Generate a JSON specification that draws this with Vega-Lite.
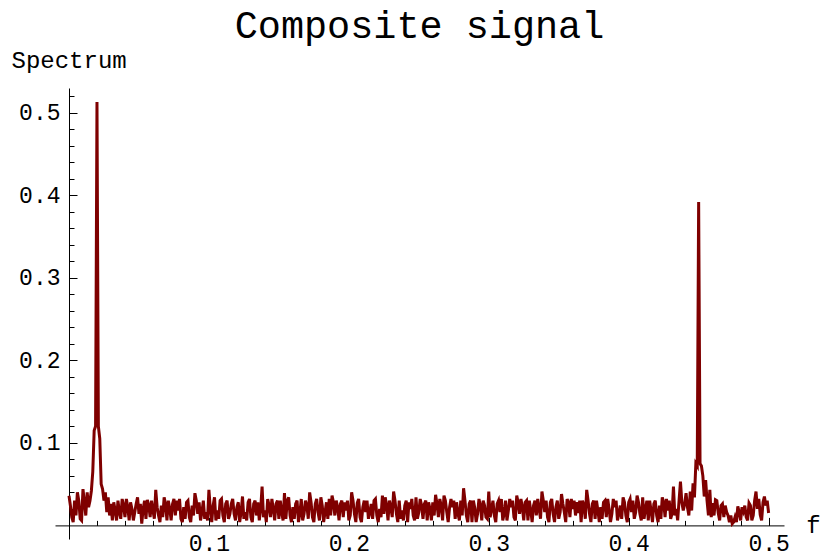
{
  "$schema": "https://vega.github.io/schema/vega-lite/v6.json",
  "autosize": {"type": "none"},
  "padding": {"left": 55, "top": 88, "right": 38, "bottom": 20},
  "width": 729,
  "height": 451,
  "background": "white",
  "config": {"view": {"stroke": null}},
  "title": {"text": "Composite signal", "font": "Liberation Mono", "fontSize": 38.5, "fontWeight": "normal", "color": "black", "anchor": "middle", "frame": "group", "baseline": "alphabetic", "offset": -28},
  "data": {"values": [
    {"f":0.000,"s":0.036},{"f":0.002,"s":0.010},{"f":0.004,"s":0.030},{"f":0.006,"s":0.040},{"f":0.008,"s":0.008},
    {"f":0.010,"s":0.044},{"f":0.012,"s":0.012},{"f":0.013,"s":0.040},{"f":0.014,"s":0.022},{"f":0.015,"s":0.030},
    {"f":0.016,"s":0.042},{"f":0.017,"s":0.065},{"f":0.018,"s":0.115},{"f":0.019,"s":0.120},{"f":0.020,"s":0.513},
    {"f":0.021,"s":0.120},{"f":0.022,"s":0.105},{"f":0.023,"s":0.050},{"f":0.024,"s":0.044},{"f":0.025,"s":0.030},
    {"f":0.026,"s":0.040},{"f":0.027,"s":0.016},{"f":0.028,"s":0.034},{"f":0.029,"s":0.012},{"f":0.030,"s":0.026},
    {"f":0.032,"s":0.028},{"f":0.034,"s":0.006},{"f":0.036,"s":0.016},{"f":0.038,"s":0.032},{"f":0.040,"s":0.010},
    {"f":0.042,"s":0.022},{"f":0.044,"s":0.028},{"f":0.046,"s":0.006},{"f":0.048,"s":0.026},{"f":0.050,"s":0.014},
    {"f":0.052,"s":0.002},{"f":0.054,"s":0.030},{"f":0.056,"s":0.031},{"f":0.058,"s":0.010},{"f":0.060,"s":0.018},
    {"f":0.062,"s":0.043},{"f":0.064,"s":0.012},{"f":0.066,"s":0.024},{"f":0.068,"s":0.034},{"f":0.070,"s":0.006},
    {"f":0.072,"s":0.020},{"f":0.074,"s":0.026},{"f":0.076,"s":0.012},{"f":0.078,"s":0.018},{"f":0.080,"s":0.008},
    {"f":0.082,"s":0.022},{"f":0.084,"s":0.028},{"f":0.086,"s":0.010},{"f":0.088,"s":0.024},{"f":0.090,"s":0.039},
    {"f":0.092,"s":0.014},{"f":0.094,"s":0.006},{"f":0.096,"s":0.030},{"f":0.098,"s":0.016},{"f":0.100,"s":0.043},
    {"f":0.102,"s":0.004},{"f":0.104,"s":0.034},{"f":0.106,"s":0.018},{"f":0.108,"s":0.030},{"f":0.110,"s":0.012},
    {"f":0.112,"s":0.026},{"f":0.114,"s":0.008},{"f":0.116,"s":0.026},{"f":0.118,"s":0.014},{"f":0.120,"s":0.022},
    {"f":0.122,"s":0.004},{"f":0.124,"s":0.035},{"f":0.126,"s":0.016},{"f":0.128,"s":0.028},{"f":0.130,"s":0.010},
    {"f":0.132,"s":0.026},{"f":0.134,"s":0.012},{"f":0.136,"s":0.006},{"f":0.138,"s":0.047},{"f":0.140,"s":0.018},
    {"f":0.142,"s":0.032},{"f":0.144,"s":0.010},{"f":0.146,"s":0.020},{"f":0.148,"s":0.026},{"f":0.150,"s":0.008},
    {"f":0.152,"s":0.016},{"f":0.154,"s":0.039},{"f":0.156,"s":0.030},{"f":0.158,"s":0.012},{"f":0.160,"s":0.022},
    {"f":0.162,"s":0.026},{"f":0.164,"s":0.004},{"f":0.166,"s":0.032},{"f":0.168,"s":0.014},{"f":0.170,"s":0.024},
    {"f":0.172,"s":0.040},{"f":0.174,"s":0.010},{"f":0.176,"s":0.026},{"f":0.178,"s":0.016},{"f":0.180,"s":0.034},
    {"f":0.182,"s":0.004},{"f":0.184,"s":0.028},{"f":0.186,"s":0.032},{"f":0.188,"s":0.036},{"f":0.190,"s":0.012},
    {"f":0.192,"s":0.022},{"f":0.194,"s":0.026},{"f":0.196,"s":0.010},{"f":0.198,"s":0.018},{"f":0.200,"s":0.006},
    {"f":0.202,"s":0.040},{"f":0.204,"s":0.014},{"f":0.206,"s":0.027},{"f":0.208,"s":0.010},{"f":0.210,"s":0.022},
    {"f":0.212,"s":0.016},{"f":0.214,"s":0.008},{"f":0.216,"s":0.026},{"f":0.218,"s":0.030},{"f":0.220,"s":0.012},
    {"f":0.222,"s":0.020},{"f":0.224,"s":0.036},{"f":0.226,"s":0.034},{"f":0.228,"s":0.006},{"f":0.230,"s":0.022},
    {"f":0.232,"s":0.041},{"f":0.234,"s":0.014},{"f":0.236,"s":0.030},{"f":0.238,"s":0.018},{"f":0.240,"s":0.024},
    {"f":0.242,"s":0.004},{"f":0.244,"s":0.020},{"f":0.246,"s":0.012},{"f":0.248,"s":0.034},{"f":0.250,"s":0.016},
    {"f":0.252,"s":0.024},{"f":0.254,"s":0.026},{"f":0.256,"s":0.006},{"f":0.258,"s":0.020},{"f":0.260,"s":0.028},
    {"f":0.262,"s":0.037},{"f":0.264,"s":0.010},{"f":0.266,"s":0.024},{"f":0.268,"s":0.036},{"f":0.270,"s":0.016},
    {"f":0.272,"s":0.022},{"f":0.274,"s":0.022},{"f":0.276,"s":0.008},{"f":0.278,"s":0.014},{"f":0.280,"s":0.030},
    {"f":0.282,"s":0.045},{"f":0.284,"s":0.012},{"f":0.286,"s":0.026},{"f":0.288,"s":0.004},{"f":0.290,"s":0.021},
    {"f":0.292,"s":0.014},{"f":0.294,"s":0.024},{"f":0.296,"s":0.030},{"f":0.298,"s":0.010},{"f":0.300,"s":0.041},
    {"f":0.302,"s":0.020},{"f":0.304,"s":0.012},{"f":0.306,"s":0.026},{"f":0.308,"s":0.016},{"f":0.310,"s":0.006},
    {"f":0.312,"s":0.030},{"f":0.314,"s":0.018},{"f":0.316,"s":0.022},{"f":0.318,"s":0.010},{"f":0.320,"s":0.036},
    {"f":0.322,"s":0.014},{"f":0.324,"s":0.022},{"f":0.326,"s":0.028},{"f":0.328,"s":0.006},{"f":0.330,"s":0.018},
    {"f":0.332,"s":0.024},{"f":0.334,"s":0.012},{"f":0.336,"s":0.020},{"f":0.338,"s":0.041},{"f":0.340,"s":0.016},
    {"f":0.342,"s":0.010},{"f":0.344,"s":0.028},{"f":0.346,"s":0.014},{"f":0.348,"s":0.022},{"f":0.350,"s":0.008},
    {"f":0.352,"s":0.038},{"f":0.354,"s":0.016},{"f":0.356,"s":0.032},{"f":0.358,"s":0.010},{"f":0.360,"s":0.020},
    {"f":0.362,"s":0.012},{"f":0.364,"s":0.015},{"f":0.366,"s":0.004},{"f":0.368,"s":0.024},{"f":0.370,"s":0.043},
    {"f":0.372,"s":0.014},{"f":0.374,"s":0.026},{"f":0.376,"s":0.008},{"f":0.378,"s":0.018},{"f":0.380,"s":0.022},
    {"f":0.382,"s":0.028},{"f":0.384,"s":0.010},{"f":0.386,"s":0.020},{"f":0.388,"s":0.014},{"f":0.390,"s":0.022},
    {"f":0.392,"s":0.006},{"f":0.394,"s":0.024},{"f":0.396,"s":0.034},{"f":0.398,"s":0.012},{"f":0.400,"s":0.028},
    {"f":0.402,"s":0.016},{"f":0.404,"s":0.008},{"f":0.406,"s":0.036},{"f":0.408,"s":0.014},{"f":0.410,"s":0.034},
    {"f":0.412,"s":0.020},{"f":0.414,"s":0.006},{"f":0.416,"s":0.018},{"f":0.418,"s":0.026},{"f":0.420,"s":0.012},
    {"f":0.422,"s":0.024},{"f":0.424,"s":0.034},{"f":0.426,"s":0.010},{"f":0.428,"s":0.018},{"f":0.430,"s":0.008},
    {"f":0.432,"s":0.047},{"f":0.434,"s":0.020},{"f":0.436,"s":0.030},{"f":0.437,"s":0.053},{"f":0.438,"s":0.028},
    {"f":0.439,"s":0.018},{"f":0.440,"s":0.026},{"f":0.441,"s":0.039},{"f":0.442,"s":0.022},{"f":0.443,"s":0.012},
    {"f":0.444,"s":0.041},{"f":0.445,"s":0.018},{"f":0.446,"s":0.051},{"f":0.447,"s":0.034},{"f":0.448,"s":0.075},
    {"f":0.449,"s":0.072},{"f":0.450,"s":0.392},{"f":0.451,"s":0.075},{"f":0.452,"s":0.072},{"f":0.453,"s":0.060},
    {"f":0.454,"s":0.035},{"f":0.455,"s":0.055},{"f":0.456,"s":0.030},{"f":0.458,"s":0.043},{"f":0.460,"s":0.027},
    {"f":0.462,"s":0.031},{"f":0.464,"s":0.015},{"f":0.466,"s":0.024},{"f":0.468,"s":0.010},{"f":0.470,"s":0.016},
    {"f":0.472,"s":0.004},{"f":0.474,"s":0.002},{"f":0.476,"s":0.010},{"f":0.478,"s":0.023},{"f":0.480,"s":0.006},
    {"f":0.482,"s":0.017},{"f":0.484,"s":0.010},{"f":0.486,"s":0.027},{"f":0.488,"s":0.006},{"f":0.490,"s":0.030},
    {"f":0.491,"s":0.041},{"f":0.492,"s":0.020},{"f":0.494,"s":0.013},{"f":0.496,"s":0.028},{"f":0.497,"s":0.035},
    {"f":0.498,"s":0.024},{"f":0.500,"s":0.015},
    {"f":0.001,"s":0.024},{"f":0.003,"s":0.004},{"f":0.005,"s":0.012},{"f":0.007,"s":0.030},{"f":0.009,"s":0.006},{"f":0.011,"s":0.028},
    {"f":0.031,"s":0.006},{"f":0.033,"s":0.018},{"f":0.035,"s":0.030},{"f":0.037,"s":0.008},{"f":0.039,"s":0.024},{"f":0.041,"s":0.032},
    {"f":0.043,"s":0.006},{"f":0.045,"s":0.020},{"f":0.047,"s":0.016},{"f":0.049,"s":0.034},{"f":0.051,"s":0.026},{"f":0.053,"s":0.020},
    {"f":0.055,"s":0.008},{"f":0.057,"s":0.024},{"f":0.059,"s":0.030},{"f":0.061,"s":0.008},{"f":0.063,"s":0.022},{"f":0.065,"s":0.004},
    {"f":0.067,"s":0.010},{"f":0.069,"s":0.026},{"f":0.071,"s":0.030},{"f":0.073,"s":0.006},{"f":0.075,"s":0.032},{"f":0.077,"s":0.030},
    {"f":0.079,"s":0.032},{"f":0.081,"s":0.004},{"f":0.083,"s":0.008},{"f":0.085,"s":0.030},{"f":0.087,"s":0.004},{"f":0.089,"s":0.012},
    {"f":0.091,"s":0.030},{"f":0.093,"s":0.028},{"f":0.095,"s":0.016},{"f":0.097,"s":0.008},{"f":0.099,"s":0.006},{"f":0.101,"s":0.020},
    {"f":0.103,"s":0.024},{"f":0.105,"s":0.006},{"f":0.107,"s":0.008},{"f":0.109,"s":0.032},{"f":0.111,"s":0.004},{"f":0.113,"s":0.030},
    {"f":0.115,"s":0.014},{"f":0.117,"s":0.032},{"f":0.119,"s":0.006},{"f":0.121,"s":0.028},{"f":0.123,"s":0.016},{"f":0.125,"s":0.008},
    {"f":0.127,"s":0.006},{"f":0.129,"s":0.032},{"f":0.131,"s":0.004},{"f":0.133,"s":0.030},{"f":0.135,"s":0.028},{"f":0.137,"s":0.020},
    {"f":0.139,"s":0.010},{"f":0.141,"s":0.004},{"f":0.143,"s":0.024},{"f":0.145,"s":0.032},{"f":0.147,"s":0.006},{"f":0.149,"s":0.030},
    {"f":0.151,"s":0.030},{"f":0.153,"s":0.006},{"f":0.155,"s":0.008},{"f":0.157,"s":0.034},{"f":0.159,"s":0.004},{"f":0.161,"s":0.008},
    {"f":0.163,"s":0.030},{"f":0.165,"s":0.014},{"f":0.167,"s":0.006},{"f":0.169,"s":0.030},{"f":0.171,"s":0.008},{"f":0.173,"s":0.028},
    {"f":0.175,"s":0.004},{"f":0.177,"s":0.032},{"f":0.179,"s":0.006},{"f":0.181,"s":0.024},{"f":0.183,"s":0.016},{"f":0.185,"s":0.008},
    {"f":0.187,"s":0.012},{"f":0.189,"s":0.028},{"f":0.191,"s":0.030},{"f":0.193,"s":0.006},{"f":0.195,"s":0.030},{"f":0.197,"s":0.028},
    {"f":0.199,"s":0.030},{"f":0.201,"s":0.012},{"f":0.203,"s":0.030},{"f":0.205,"s":0.004},{"f":0.207,"s":0.032},{"f":0.209,"s":0.004},
    {"f":0.211,"s":0.030},{"f":0.213,"s":0.030},{"f":0.215,"s":0.016},{"f":0.217,"s":0.008},{"f":0.219,"s":0.032},{"f":0.221,"s":0.004},
    {"f":0.223,"s":0.010},{"f":0.225,"s":0.014},{"f":0.227,"s":0.024},{"f":0.229,"s":0.030},{"f":0.231,"s":0.010},{"f":0.233,"s":0.030},
    {"f":0.235,"s":0.004},{"f":0.237,"s":0.008},{"f":0.239,"s":0.006},{"f":0.241,"s":0.030},{"f":0.243,"s":0.028},{"f":0.245,"s":0.032},
    {"f":0.247,"s":0.006},{"f":0.249,"s":0.008},{"f":0.251,"s":0.032},{"f":0.253,"s":0.008},{"f":0.255,"s":0.030},{"f":0.257,"s":0.028},
    {"f":0.259,"s":0.006},{"f":0.261,"s":0.012},{"f":0.263,"s":0.026},{"f":0.265,"s":0.032},{"f":0.267,"s":0.006},{"f":0.269,"s":0.030},
    {"f":0.271,"s":0.004},{"f":0.273,"s":0.032},{"f":0.275,"s":0.030},{"f":0.277,"s":0.028},{"f":0.279,"s":0.006},{"f":0.281,"s":0.012},
    {"f":0.283,"s":0.030},{"f":0.285,"s":0.004},{"f":0.287,"s":0.030},{"f":0.289,"s":0.030},{"f":0.291,"s":0.004},{"f":0.293,"s":0.032},
    {"f":0.295,"s":0.006},{"f":0.297,"s":0.024},{"f":0.299,"s":0.008},{"f":0.301,"s":0.010},{"f":0.303,"s":0.030},{"f":0.305,"s":0.004},
    {"f":0.307,"s":0.030},{"f":0.309,"s":0.032},{"f":0.311,"s":0.014},{"f":0.313,"s":0.006},{"f":0.315,"s":0.032},{"f":0.317,"s":0.030},
    {"f":0.319,"s":0.006},{"f":0.321,"s":0.028},{"f":0.323,"s":0.032},{"f":0.325,"s":0.006},{"f":0.327,"s":0.030},{"f":0.329,"s":0.030},
    {"f":0.331,"s":0.004},{"f":0.333,"s":0.030},{"f":0.335,"s":0.032},{"f":0.337,"s":0.008},{"f":0.339,"s":0.030},{"f":0.341,"s":0.030},
    {"f":0.343,"s":0.004},{"f":0.345,"s":0.032},{"f":0.347,"s":0.004},{"f":0.349,"s":0.030},{"f":0.351,"s":0.016},{"f":0.353,"s":0.026},
    {"f":0.355,"s":0.004},{"f":0.357,"s":0.028},{"f":0.359,"s":0.032},{"f":0.361,"s":0.030},{"f":0.363,"s":0.028},{"f":0.365,"s":0.030},
    {"f":0.367,"s":0.030},{"f":0.369,"s":0.008},{"f":0.371,"s":0.030},{"f":0.373,"s":0.004},{"f":0.375,"s":0.030},{"f":0.377,"s":0.030},
    {"f":0.379,"s":0.004},{"f":0.381,"s":0.008},{"f":0.383,"s":0.030},{"f":0.385,"s":0.032},{"f":0.387,"s":0.004},{"f":0.389,"s":0.032},
    {"f":0.391,"s":0.030},{"f":0.393,"s":0.014},{"f":0.395,"s":0.008},{"f":0.397,"s":0.028},{"f":0.399,"s":0.004},{"f":0.401,"s":0.032},
    {"f":0.403,"s":0.030},{"f":0.405,"s":0.016},{"f":0.407,"s":0.028},{"f":0.409,"s":0.006},{"f":0.411,"s":0.008},{"f":0.413,"s":0.030},
    {"f":0.415,"s":0.030},{"f":0.417,"s":0.004},{"f":0.419,"s":0.030},{"f":0.421,"s":0.004},{"f":0.423,"s":0.008},{"f":0.425,"s":0.028},
    {"f":0.427,"s":0.032},{"f":0.429,"s":0.030},{"f":0.431,"s":0.014},{"f":0.433,"s":0.012},{"f":0.435,"s":0.006},
    {"f":0.457,"s":0.012},{"f":0.459,"s":0.010},{"f":0.461,"s":0.012},{"f":0.463,"s":0.030},{"f":0.465,"s":0.006},{"f":0.467,"s":0.026},
    {"f":0.469,"s":0.024},{"f":0.471,"s":0.012},{"f":0.473,"s":0.012},{"f":0.475,"s":0.004},{"f":0.477,"s":0.004},{"f":0.479,"s":0.016},
    {"f":0.481,"s":0.022},{"f":0.483,"s":0.024},{"f":0.485,"s":0.006},{"f":0.487,"s":0.024},{"f":0.489,"s":0.012},{"f":0.493,"s":0.032},
    {"f":0.495,"s":0.006},{"f":0.499,"s":0.030}
  ]},
  "mark": {"type": "line", "color": "#7f0000", "strokeWidth": 3, "clip": true},
  "encoding": {
    "x": {
      "field": "f", "type": "quantitative",
      "scale": {"domain": [-0.01, 0.511], "nice": false, "zero": false},
      "axis": {
        "orient": "bottom", "offset": -13.6, "grid": false,
        "values": [0.02,0.04,0.06,0.08,0.1,0.12,0.14,0.16,0.18,0.2,0.22,0.24,0.26,0.28,0.3,0.32,0.34,0.36,0.38,0.4,0.42,0.44,0.46,0.48,0.5],
        "labelExpr": "abs(datum.value*10 - round(datum.value*10)) < 0.001 ? format(datum.value, '.1f') : ''",
        "tickSize": {"condition": {"test": "abs(datum.value*10 - round(datum.value*10)) < 0.001", "value": -8}, "value": -5},
        "tickColor": "black", "tickWidth": 1,
        "domainColor": "black", "domainWidth": 1,
        "labelFont": "Liberation Mono", "labelFontSize": 23, "labelColor": "black",
        "labelBaseline": "alphabetic", "labelPadding": 33, "labelFlush": false, "labelOverlap": false,
        "title": "f", "titleFont": "Liberation Mono", "titleFontSize": 24, "titleFontWeight": "normal", "titleColor": "black",
        "titleAlign": "center", "titleBaseline": "alphabetic", "titleX": 758, "titleY": 7, "titleAngle": 0
      }
    },
    "y": {
      "field": "s", "type": "quantitative",
      "scale": {"domain": [-0.0165, 0.53], "nice": false, "zero": false},
      "axis": {
        "orient": "left", "offset": -14, "grid": false,
        "values": [0.02,0.04,0.06,0.08,0.1,0.12,0.14,0.16,0.18,0.2,0.22,0.24,0.26,0.28,0.3,0.32,0.34,0.36,0.38,0.4,0.42,0.44,0.46,0.48,0.5,0.52],
        "labelExpr": "abs(datum.value*10 - round(datum.value*10)) < 0.001 ? format(datum.value, '.1f') : ''",
        "tickSize": {"condition": {"test": "abs(datum.value*10 - round(datum.value*10)) < 0.001", "value": -8}, "value": -5},
        "tickColor": "black", "tickWidth": 1,
        "domainColor": "black", "domainWidth": 1,
        "labelFont": "Liberation Mono", "labelFontSize": 23, "labelColor": "black",
        "labelAlign": "right", "labelBaseline": "middle", "labelPadding": 17, "labelFlush": false, "labelOverlap": false,
        "title": "Spectrum", "titleFont": "Liberation Mono", "titleFontSize": 24, "titleFontWeight": "normal", "titleColor": "black",
        "titleAlign": "left", "titleBaseline": "alphabetic", "titleX": -58, "titleY": -21, "titleAngle": 0
      }
    }
  }
}
